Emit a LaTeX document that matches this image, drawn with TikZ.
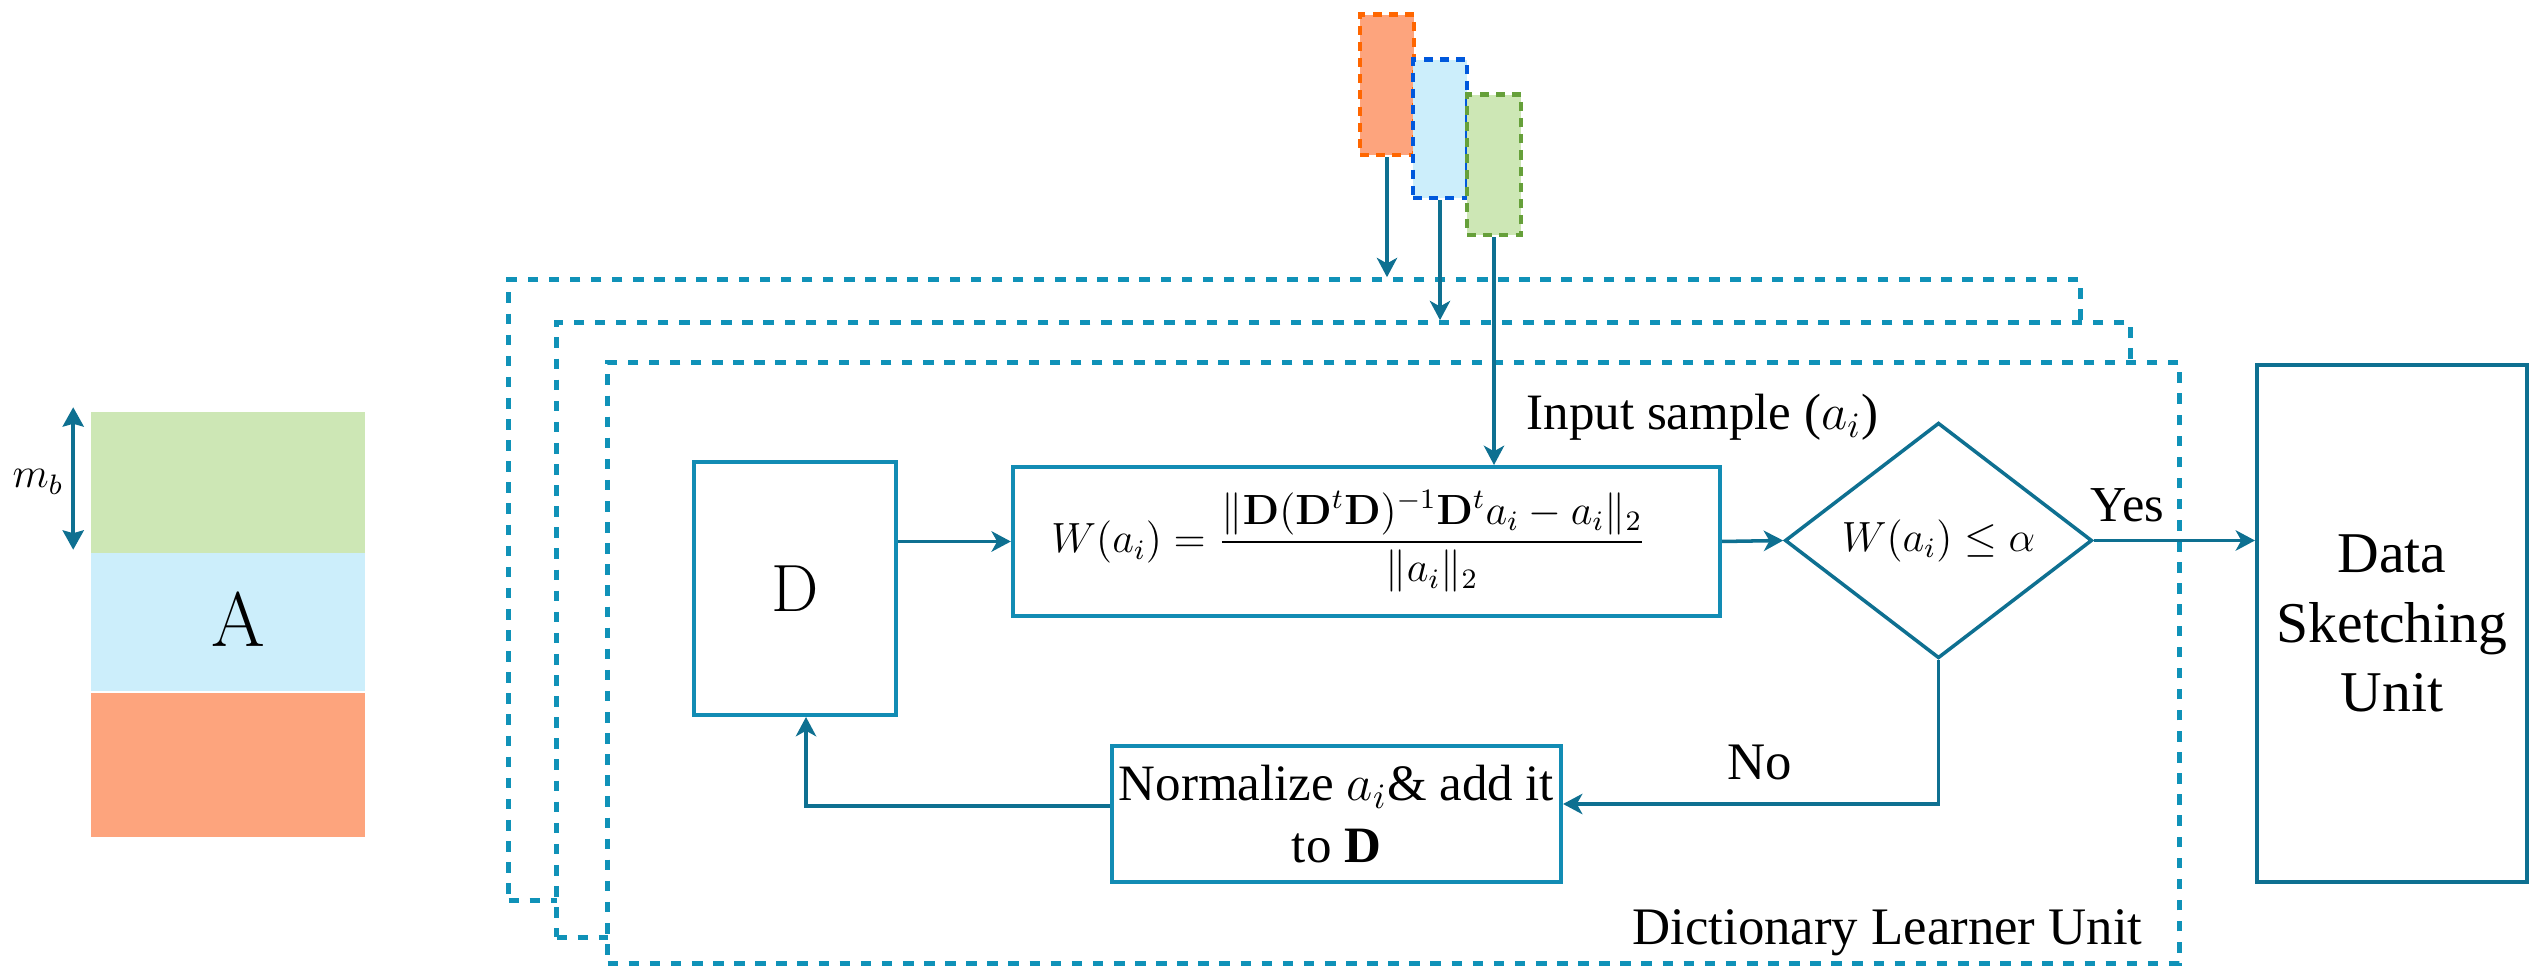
\RequirePackage{fix-cm}
\documentclass[tikz,border=0pt]{standalone}
\usepackage{amsmath}
\usepackage[no-math]{fontspec}
\setmainfont{LiberationSerif}[Extension=.ttf, UprightFont=*-Regular, BoldFont=*-Bold, ItalicFont=*-Italic, BoldItalicFont=*-BoldItalic]
\usetikzlibrary{arrows.meta,shapes.geometric}

\definecolor{arrowcol}{RGB}{14,112,145}
\definecolor{boxcol}{RGB}{18,140,180}
\definecolor{dashcol}{RGB}{16,146,184}
\definecolor{greenfill}{RGB}{205,231,181}
\definecolor{bluefill}{RGB}{204,238,251}
\definecolor{orangefill}{RGB}{253,164,125}
\definecolor{greenedge}{RGB}{102,160,58}
\definecolor{blueedge}{RGB}{0,88,220}
\definecolor{orangeedge}{RGB}{255,102,0}

\tikzset{
  arr/.style={draw=arrowcol, line width=1pt, -{Stealth[length=5.5pt,width=5.8pt,inset=1.6pt]}},
  blk/.style={draw=boxcol, line width=1.1pt, rectangle, inner sep=0pt, align=center, fill=white},
  unitframe/.style={draw=dashcol, line width=1.5pt, dash pattern=on 3pt off 3pt, fill=white, rectangle, inner sep=0pt},
  chunk/.style={line width=1.4pt, dash pattern=on 2.6pt off 2pt, rectangle, inner sep=0pt, minimum width=0.54cm},
  strip/.style={rectangle, inner sep=0pt, minimum width=2.74cm},
  txt/.style={inner sep=0pt, font=\fontsize{14.5}{17.5}\selectfont}
}

\begin{document}
\begin{tikzpicture}[x=0.01cm,y=-0.01cm]
\useasboundingbox (0,0) rectangle (2542,968);

% data matrix A split into blocks of m_b rows
\node[strip, fill=greenfill, minimum height=1.41cm] (ag) at (228,482.5) {};
\node[strip, fill=bluefill, minimum height=1.38cm] (ab) at (228,622) {};
\node[strip, fill=orangefill, minimum height=1.44cm] (ao) at (228,765) {};
\node[inner sep=0pt, font=\fontsize{22}{24}\selectfont] (alab) at (238,620) {$\mathrm{A}$};
\draw[draw=arrowcol, line width=1pt, {Stealth[length=5.5pt,width=6pt,inset=0.8pt]}-{Stealth[length=5.5pt,width=6pt,inset=0.8pt]}]
  ([xshift=-0.17cm,yshift=0.04cm]ag.north west) -- ([xshift=-0.17cm,yshift=0.04cm]ag.south west);
\node[inner sep=0pt, font=\fontsize{12}{14}\selectfont] (mb) at (38,482) {$m_b$};

% stacked dictionary learner frames
\node[unitframe, minimum width=15.71cm, minimum height=6.2cm] (r1) at (1294.5,590) {};
\node[unitframe, minimum width=15.73cm, minimum height=6.14cm] (r2) at (1343.5,630) {};
\node[unitframe, minimum width=15.71cm, minimum height=6.0cm] (r3) at (1393.5,663) {};

% incoming data blocks
\node[chunk, draw=orangeedge, fill=orangefill, minimum height=1.40cm] (to) at (1387,85) {};
\node[chunk, draw=blueedge, fill=bluefill, minimum height=1.38cm] (tb) at (1440,129) {};
\node[chunk, draw=greenedge, fill=greenfill, minimum height=1.40cm] (tg) at (1494,165) {};

% blocks of the learner
\node[blk, minimum width=2.02cm, minimum height=2.53cm, font=\fontsize{19}{21}\selectfont] (dbox) at (795,588.5) {$\mathrm{D}$};
\node[blk, minimum width=7.07cm, minimum height=1.49cm, font=\fontsize{12}{14}\selectfont] (fbox) at (1366.5,541.5)
  {$W(a_i)=\dfrac{\|\mathbf{D}(\mathbf{D}^t\mathbf{D})^{-1}\mathbf{D}^t a_i - a_i\|_2}{\|a_i\|_2}$\hspace{0.35cm}};
\node[diamond, draw=arrowcol, line width=1pt, inner sep=0pt, minimum width=3.07cm, minimum height=2.0cm,
  font=\fontsize{12}{14}\selectfont, fill=white] (dia) at (1938.5,540.5) {$W(a_i)\leq\alpha$};
\node[blk, minimum width=4.49cm, minimum height=1.36cm, font=\fontsize{14.5}{17.5}\selectfont] (norm) at (1336.5,814)
  {Normalize $a_i$\& add it\\ to \textbf{D}};
\node[blk, draw=arrowcol, minimum width=2.70cm, minimum height=5.17cm, font=\fontsize{16.4}{19.7}\selectfont] (dsu) at (2392,623.5)
  {Data\\ Sketching\\ Unit};

% labels
\node[txt, anchor=base west] (inp) at (1526,430) {Input sample ($a_i$)};
\node[txt, anchor=base west, font=\fontsize{14.3}{17}\selectfont] (yes) at (2090,522) {Yes};
\node[txt, anchor=base west, font=\fontsize{15}{18}\selectfont] (no) at (1727,780) {No};
\node[txt, anchor=base west, font=\fontsize{15}{18}\selectfont] (dlu) at (1632,945) {Dictionary Learner Unit};

% connectors
\draw[arr] (to.south) -- (to.south |- r1.north);
\draw[arr] (tb.south) -- (tb.south |- r2.north);
\draw[arr] (tg.south) -- (tg.south |- fbox.north);
\draw[arr] (dbox.east |- fbox.west) -- (fbox.west);
\draw[arr] (fbox.east) -- (dia.west);
\draw[arr] (dia.east) -- (dia.east -| dsu.west);
\draw[arr] (dia.south) |- ([yshift=0.1cm]norm.east);
\draw[arr] ([yshift=0.08cm]norm.west) -| ([xshift=0.11cm]dbox.south);
\end{tikzpicture}
\end{document}
